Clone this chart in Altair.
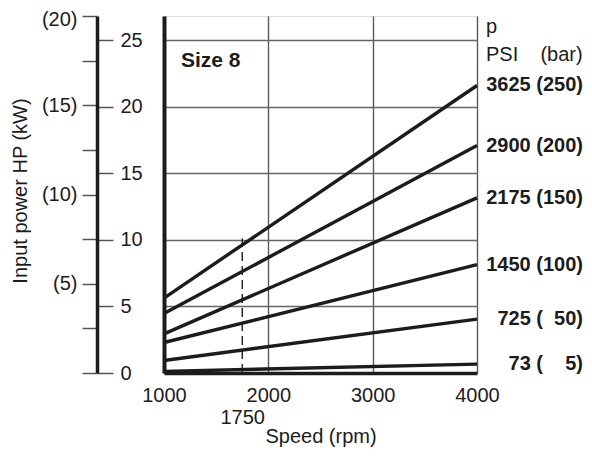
import altair as alt
import pandas as pd

FONT = "Liberation Sans, Arial, Helvetica, sans-serif"
INK = "#1c1c1c"

# ---- data ----
speeds = [1000, 4000]
pressure_bar = [5, 50, 100, 150, 200, 250]
hp_at_1000 = [0.12, 0.94, 2.29, 2.94, 4.47, 5.63]
hp_at_4000 = [0.67, 4.05, 8.14, 13.16, 17.09, 21.60]
line_labels = [
    "73 (\u00a0\u00a0\u00a0\u00a05)",
    "725 (\u00a0\u00a050)",
    "1450 (100)",
    "2175 (150)",
    "2900 (200)",
    "3625 (250)",
]
x_tick_values = [1000, 1750, 2000, 3000, 4000]
hp_tick_values = [0, 5, 10, 15, 20, 25]
kw_tick_values = [0, 2.5, 5, 7.5, 10, 12.5, 15, 17.5, 20]
rated_speed = [1750]
rated_hp_top = [10.1]
kw_max = 20
hp_per_kw = 1.341

# ---- tables ----
rows = []
for b, h0, h1 in zip(pressure_bar, hp_at_1000, hp_at_4000):
    rows.append({"bar": b, "speed": speeds[0], "hp": h0})
    rows.append({"bar": b, "speed": speeds[1], "hp": h1})
lines_df = pd.DataFrame(rows)
ends_df = pd.DataFrame({"speed": [speeds[1]] * len(hp_at_4000), "hp": hp_at_4000, "label": line_labels})
dash_df = pd.DataFrame({"speed": rated_speed, "hp0": [0], "hp1": rated_hp_top})
hp_df = pd.DataFrame({"hp": hp_tick_values})
kw_df = pd.DataFrame({"kw": kw_tick_values})
one_df = pd.DataFrame({"a": [0]})

hp_scale = alt.Scale(domain=[0, kw_max * hp_per_kw], nice=False, zero=True)
x_scale = alt.Scale(domain=[speeds[0], speeds[1]], nice=False, zero=False)

x_axis = alt.Axis(
    values=x_tick_values, format="d", ticks=False, tickSize=0, labelFlush=False,
    domain=True, domainWidth=3.5, domainColor=INK,
    grid=True, gridColor="#5a5a5a", gridWidth=1.4,
    gridOpacity={"condition": {"test": "datum.value == 1750", "value": 0}, "value": 1},
    labelPadding={"condition": {"test": "datum.value == 1750", "value": 34}, "value": 12},
    labelFontSize=20, labelColor=INK, labelFont=FONT,
    title="Speed (rpm)", titleFontSize=20, titleFontWeight="normal", titleColor=INK,
    titleFont=FONT, titleY=69, titleBaseline="alphabetic",
)
main_y_axis = alt.Axis(
    orient="left", values=[5, 10, 15, 20, 25], grid=True, gridColor="#666666", gridWidth=1.4,
    labels=False, ticks=False, domain=True, domainWidth=4, domainColor=INK, title=None,
)

lines = alt.Chart(lines_df).mark_line(color=INK, strokeWidth=3.4).encode(
    x=alt.X("speed:Q", scale=x_scale, axis=x_axis),
    y=alt.Y("hp:Q", scale=hp_scale, axis=main_y_axis),
    detail="bar:N",
)
dashed = alt.Chart(dash_df).mark_rule(color=INK, strokeWidth=1.4, strokeDash=[9, 5]).encode(
    x="speed:Q", y="hp0:Q", y2="hp1:Q"
)
end_labels = alt.Chart(ends_df).mark_text(
    align="right", baseline="middle", dx=106, fontSize=20, fontWeight="bold", font=FONT, color=INK
).encode(x="speed:Q", y="hp:Q", text="label:N")
size_text = alt.Chart(one_df).mark_text(
    text="Size 8", align="left", baseline="alphabetic", fontSize=21, fontWeight="bold", font=FONT, color=INK
).encode(x=alt.value(17), y=alt.value(51))
p_text = alt.Chart(one_df).mark_text(
    text="p", align="left", baseline="alphabetic", fontSize=20, font=FONT, color=INK
).encode(x=alt.value(322), y=alt.value(17))
psi_text = alt.Chart(one_df).mark_text(
    text="PSI\u00a0\u00a0\u00a0\u00a0(bar)", align="left", baseline="alphabetic", fontSize=20, font=FONT, color=INK
).encode(x=alt.value(322), y=alt.value(44.5))

main = alt.layer(lines, dashed, end_labels, size_text, p_text, psi_text)

hp_axis_layer = alt.Chart(hp_df).mark_point(opacity=0).encode(
    y=alt.Y("hp:Q", scale=hp_scale, axis=alt.Axis(
        orient="right", offset=-380, values=hp_tick_values, domain=False,
        ticks=True, tickSize=16, tickWidth=1.5, tickColor="#555555",
        labelPadding=7, labelFontSize=20, labelColor=INK, labelFont=FONT,
        grid=False, title=None,
    ))
)
kw_axis_layer = alt.Chart(kw_df).mark_point(opacity=0).encode(
    y=alt.Y("kw:Q", scale=alt.Scale(domain=[0, kw_max], nice=False, zero=True), axis=alt.Axis(
        orient="left", offset=67, values=kw_tick_values,
        labelExpr="(datum.value > 0 && datum.value % 5 == 0) ? '(' + datum.value + ')' : ''",
        labelOffset={"condition": {"test": "datum.value == 20", "value": 3}, "value": 0},
        domain=True, domainWidth=3.5, domainColor=INK,
        ticks=True, tickSize=15, tickWidth=1.5, tickColor="#555555",
        labelPadding=5, labelFontSize=20, labelColor=INK, labelFont=FONT, grid=False,
        title="Input power HP (kW)", titleFontSize=20, titleFontWeight="normal", titleColor=INK,
        titleFont=FONT, titleAngle=270, titleX=-71, titleY=174.5, titleBaseline="alphabetic",
    ))
)

chart = alt.layer(main, hp_axis_layer, kw_axis_layer).resolve_scale(y="independent").properties(
    width=313, height=357,
    autosize=alt.AutoSizeParams(type="none"),
    padding={"left": 156, "top": 8, "right": 107, "bottom": 76},
).configure_view(stroke="#2a2a2a", strokeWidth=1.5).configure(background="white")

chart.save("out.html", embed_options={"renderer": "svg", "actions": False})
